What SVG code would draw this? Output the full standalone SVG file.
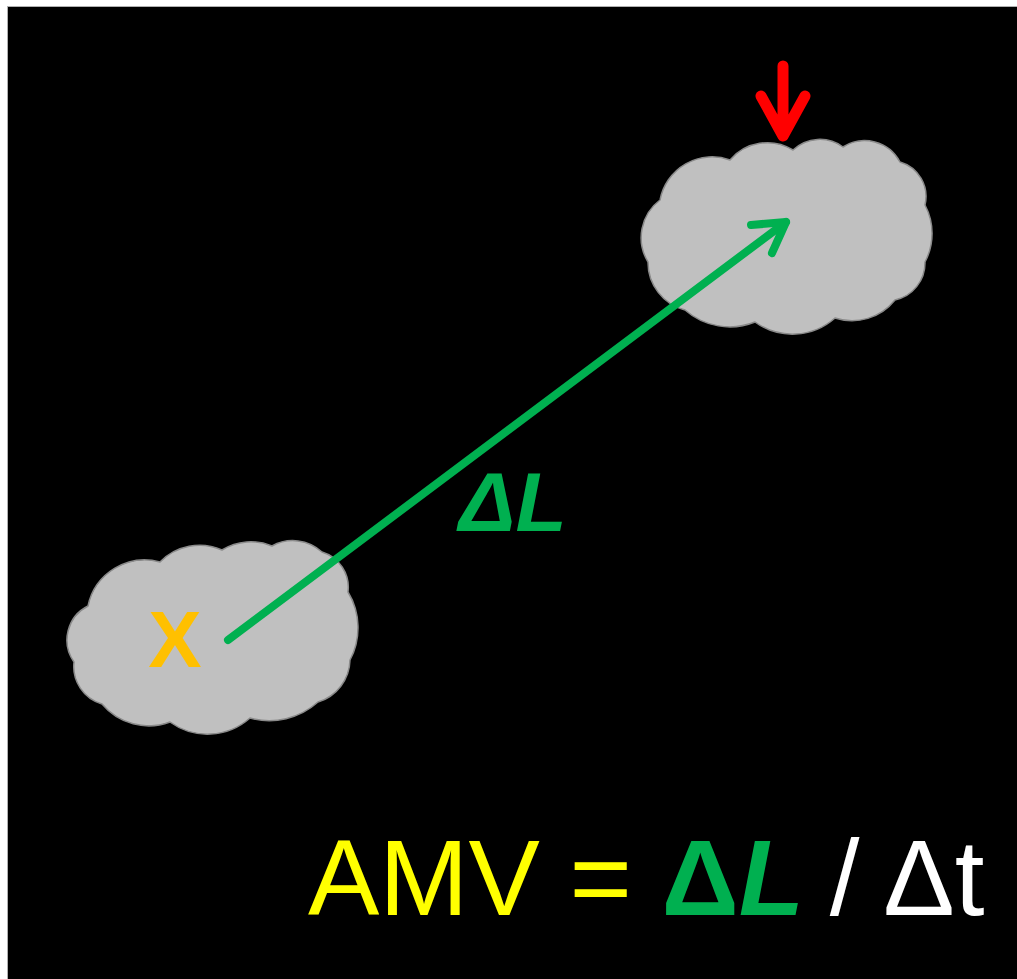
<svg xmlns="http://www.w3.org/2000/svg" width="1017" height="979" viewBox="0 0 1017 979">
  <defs>
    <style>
      .cloud { fill: #c0c0c0; stroke: #8a8a8a; stroke-width: 1.5; stroke-linejoin: round; }
      .vec { stroke: #00b050; stroke-width: 8; fill: none; stroke-linecap: round; stroke-linejoin: round; }
      .mark { stroke: #ff0000; stroke-width: 11; fill: none; stroke-linecap: round; stroke-linejoin: round; }
      .sans { font-family: "Liberation Sans", Arial, sans-serif; }
    </style>
  </defs>

  <!-- page frame -->
  <rect x="0" y="0" width="1017" height="979" fill="#ffffff"/>
  <rect x="7.5" y="6.5" width="1012" height="975" fill="#000000" stroke="#b0b0b0" stroke-width="1"/>

  <!-- later cloud position (upper right) -->
  <g id="cloud-later">
    <path class="cloud" d="M660,200
      A53,53 0 0 1 730,160
      A49,49 0 0 1 793,150
      A39,39 0 0 1 843,147
      A40,40 0 0 1 900,162
      A36,36 0 0 1 925,205
      A61,61 0 0 1 925,262
      A38,38 0 0 1 895,300
      A55,55 0 0 1 835,318
      A64,64 0 0 1 755,322
      A68,68 0 0 1 685,310
      A49,49 0 0 1 648,262
      A47,47 0 0 1 660,200 Z"/>
  </g>

  <!-- earlier cloud position (lower left) -->
  <g id="cloud-earlier">
    <path class="cloud" d="M88,606
      A58,58 0 0 1 160,562
      A55,55 0 0 1 222,550
      A55,55 0 0 1 272,546
      A43,43 0 0 1 322,552
      A37,37 0 0 1 348,592
      A69,69 0 0 1 350,660
      A45,45 0 0 1 318,702
      A73,73 0 0 1 250,718
      A64,64 0 0 1 170,722
      A61,61 0 0 1 102,704
      A39,39 0 0 1 74,662
      A38,38 0 0 1 88,606 Z"/>
    <text class="sans" x="175" y="667" font-size="80" font-weight="bold" fill="#ffc000" text-anchor="middle">X</text>
  </g>

  <!-- tracked feature marker -->
  <g id="marker">
    <path class="mark" d="M783,66 L783,134 M761,96 L783,136 L805,96"/>
  </g>

  <!-- displacement vector -->
  <g id="connectors">
    <path class="vec" d="M228,640 L786,222"/>
    <path class="vec" d="M751,225 L786,222 L772,253"/>
  </g>

  <g id="label-dl">
    <text class="sans" x="459" y="531" font-size="84" font-weight="bold" font-style="italic" fill="#00b050">ΔL</text>
  </g>

  <!-- formula -->
  <g id="formula">
    <text class="sans" x="308" y="915" font-size="107"><tspan fill="#ffff00">AMV =</tspan><tspan fill="#00b050" font-weight="bold"> Δ</tspan><tspan fill="#00b050" font-weight="bold" font-style="italic">L</tspan><tspan fill="#ffffff" dx="-4"> / </tspan><tspan fill="#ffffff" dx="-6">Δt</tspan></text>
  </g>
</svg>
